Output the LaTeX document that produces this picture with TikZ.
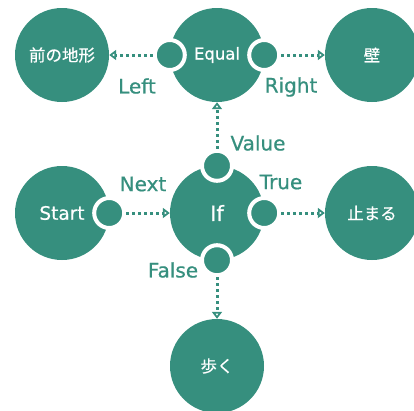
\documentclass[tikz,border=0pt]{standalone}
\usepackage{fontspec}
\setmainfont{DejaVu Sans}
\newfontfamily\medfont{DejaVu Sans}[FakeBold=0.7]
\newfontfamily\jpfont{Noto Sans CJK JP}[FakeBold=0.5]
\usepackage{xcolor}
\usetikzlibrary{positioning,calc,arrows.meta}
\definecolor{nodeteal}{HTML}{368F7E}
\newcommand{\jptext}[1]{\jpfont\fontsize{16.5}{18}\selectfont #1}

\tikzset{
  block/.style={circle, fill=nodeteal, minimum size=94pt, inner sep=0pt,
    text=white, font=\medfont\fontsize{16.5}{18}\selectfont},
  port/.style={circle, fill=nodeteal, draw=white, line width=4pt,
    minimum size=30pt, inner sep=0pt},
  link/.style={nodeteal, line width=3pt, dash pattern=on 3pt off 3pt,
    -{Triangle[open, length=7pt, width=10pt, line width=2pt]}},
  tag/.style={text=nodeteal, font=\medfont\fontsize{20}{22}\selectfont}
}

\begin{document}
\begin{tikzpicture}[x=1pt, y=-1pt]
  \useasboundingbox (0,0) rectangle (414,410);

  % Blocks
  \node[block] (front) at (62, 55) {\jptext{前の地形}};
  \node[block] (equal) at (217, 55) {Equal};
  \node[block] (wall)  at (372, 55) {\jptext{壁}};
  \node[block, font=\medfont\fontsize{18.5}{20}\selectfont] (start) at (62, 213) {Start};
  \node[block, font=\medfont\fontsize{21}{23}\selectfont] (if) at (217, 213) {If};
  \node[block] (stop)  at (372, 213) {\jptext{止まる}};
  \node[block] (walk)  at (217, 366) {\jptext{歩く}};

  % Ports sitting on the block edges
  \node[port] (leftport)  at (equal.west) {};
  \node[port] (rightport) at (equal.east) {};
  \node[port] (nextport)  at (start.east) {};
  \node[port] (valueport) at (if.north) {};
  \node[port] (trueport)  at (if.east) {};
  \node[port] (falseport) at (if.south) {};

  % Connections
  \draw[link] (leftport) -- (front);
  \draw[link] (rightport) -- (wall);
  \draw[link] (valueport) -- (equal);
  \draw[link] (nextport) -- (if);
  \draw[link] (trueport) -- (stop);
  \draw[link] (falseport) -- (walk);

  % Port labels
  \node[tag] at (137, 86) {Left};
  \node[tag] at (291, 87) {Right};
  \node[tag] at (258, 143) {Value};
  \node[tag] at (143, 184) {Next};
  \node[tag] at (281, 182) {True};
  \node[tag] at (173, 270) {False};
\end{tikzpicture}
\end{document}
